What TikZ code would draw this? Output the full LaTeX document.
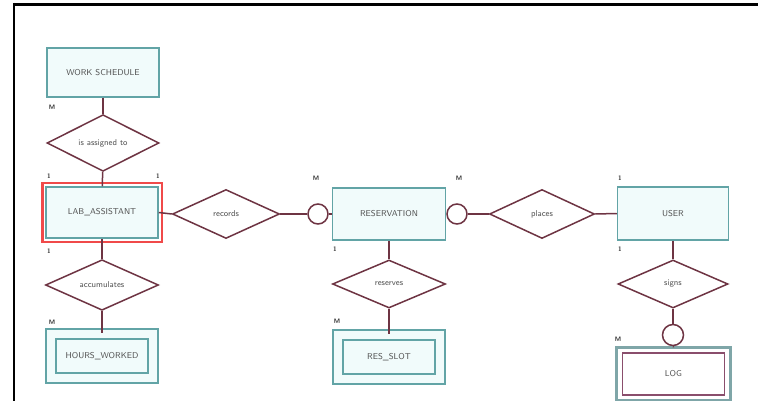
\documentclass[tikz,border=0pt]{standalone}
\usetikzlibrary{shapes.geometric}
\definecolor{entline}{HTML}{62A4A6}
\definecolor{entfill}{HTML}{F1FBFB}
\definecolor{relline}{HTML}{6E3443}
\definecolor{labgray}{HTML}{505050}
\definecolor{markred}{HTML}{F04A4A}
\definecolor{logline}{HTML}{8A4E6C}
\definecolor{logedge}{HTML}{7FA6A8}
\newcommand{\erfont}{\fontsize{8.5}{10}\selectfont\sffamily}
\newcommand{\cardfont}{\fontsize{6.5}{7}\selectfont\sffamily\bfseries}
\begin{document}
\begin{tikzpicture}[x=1pt, y=-1pt,
    entity/.style={draw=entline, fill=entfill, line width=1.5pt, minimum width=112pt,
                   minimum height=51pt, font=\erfont, text=labgray},
    weak/.style={draw=entline, fill=entfill, double=entfill, double distance=8.5pt,
                 line width=1.5pt, minimum width=102pt, minimum height=44pt,
                 font=\erfont, text=labgray},
    rel/.style={diamond, draw=relline, fill=white, line width=1.5pt, inner sep=0pt,
                minimum width=112pt, minimum height=48pt, font=\erfont, text=labgray},
    optional/.style={circle, draw=relline, fill=white, line width=1.5pt,
                     minimum size=20pt, inner sep=0pt},
    link/.style={draw=relline, line width=1.5pt},
    card/.style={font=\cardfont, text=black!80, inner sep=0pt}]
  \useasboundingbox (0, 0) rectangle (758, 401);
  % frame of the screenshot
  \draw[line width=3pt] (13, 4.5) -- (758, 4.5);
  \draw[line width=2.5pt] (14, 3) -- (14, 401);

  % left column
  \node[entity, minimum height=49pt] (ws) at (103, 72.5) {WORK SCHEDULE};
  \node[rel, minimum width=112pt] (assign) at (103, 143) {is assigned to};
  \node[entity, minimum width=112pt, minimum height=51pt] (lab) at (102, 212.5) {LAB\_ASSISTANT};
  \draw[markred, line width=2.5pt] ([shift={(-3, -3)}]lab.north west)
    rectangle ([shift={(3, 3)}]lab.south east);
  \node[rel, minimum width=113pt, minimum height=46pt] (accum) at (102, 285) {accumulates};
  \node[weak] (hours) at (102, 356) {HOURS\_WORKED};

  % middle column
  \node[rel, minimum width=107pt, minimum height=49pt] (records) at (226, 214) {records};
  \node[optional] (optA) at (318, 214) {};
  \node[entity, minimum width=113pt, minimum height=52pt] (res) at (389, 214) {RESERVATION};
  \node[optional] (optB) at (457, 214) {};
  \node[rel, minimum width=113pt] (reserves) at (389, 284) {reserves};
  \node[weak] (slot) at (389, 357) {RES\_SLOT};

  % right column
  \node[rel, minimum width=105pt, minimum height=49pt] (places) at (542, 214) {places};
  \node[entity, minimum width=111pt, minimum height=53pt] (user) at (673, 213.5) {USER};
  \node[rel, minimum width=110pt] (signs) at (673, 284) {signs};
  \node[optional, minimum size=21pt] (optC) at (673, 335) {};
  \node[draw=logline, fill=white, line width=1.1pt, minimum width=102pt,
        minimum height=42pt, font=\erfont, text=labgray] (log) at (673.5, 374) {LOG};
  \draw[logedge, line width=3pt] ([shift={(-5.5, -5)}]log.north west)
    rectangle ([shift={(5.5, 4.5)}]log.south east);
  \coordinate (logtop) at ([yshift=5pt]log.north);

  % connectors
  \draw[link] (ws) -- (assign);
  \draw[link] (assign) -- (lab);
  \draw[link] (lab.south) -- (accum.north);
  \draw[link] (accum) -- (hours);
  \draw[link] (lab.east) -- (records.west);
  \draw[link] (records.east) -- (optA.west);
  \draw[link] (optA.east) -- (res.west);
  \draw[link] (res.east) -- (optB.west);
  \draw[link] (optB.east) -- (places.west);
  \draw[link] (places.east) -- (user.west);
  \draw[link] (res) -- (reserves);
  \draw[link] (reserves) -- (slot);
  \draw[link] (user) -- (signs);
  \draw[link] (signs) -- (optC);
  \draw[link] (optC) -- (logtop);

  % cardinalities
  \node[card] (cWs) at (52, 107) {M};
  \node[card] (cLabA) at (49, 176) {1};
  \node[card] (cLabB) at (158, 176) {1};
  \node[card] (cResA) at (316, 178) {M};
  \node[card] (cResB) at (459, 178) {M};
  \node[card] (cUserA) at (620, 178) {1};
  \node[card] (cLabC) at (49, 251) {1};
  \node[card] (cResC) at (335, 249) {1};
  \node[card] (cUserB) at (620, 249) {1};
  \node[card] (cHours) at (52, 322) {M};
  \node[card] (cSlot) at (337, 321) {M};
  \node[card] (cLog) at (618, 339) {M};
\end{tikzpicture}
\end{document}
